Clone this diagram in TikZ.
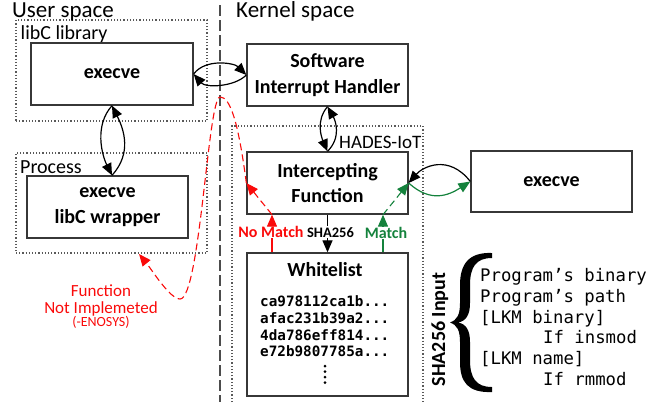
\documentclass[tikz,border=0pt]{standalone}
\usepackage{fontspec}
\setmainfont{Carlito}
\newfontfamily\monofont{DejaVu Sans Mono}
\usetikzlibrary{arrows.meta}
\definecolor{mgreen}{RGB}{20,130,60}
\definecolor{mred}{RGB}{250,10,10}
\definecolor{bord}{RGB}{55,55,55}
\newcommand{\fsz}[2]{\fontsize{#1}{#2}\selectfont}
\begin{document}
\begin{tikzpicture}[x=1pt,y=-1pt,
  box/.style={draw=bord, line width=1.3pt, minimum width=161pt, minimum height=62pt, inner sep=0pt, align=center, font=\fsz{20}{25.5}\bfseries},
  dotbox/.style={draw=black!65, line width=1.2pt, dash pattern=on 1.2pt off 2pt},
  arr/.style={line width=1.2pt, -{Triangle[length=12pt,width=10pt]}},
  lbl/.style={inner sep=0pt, anchor=base west},
  clbl/.style={inner sep=1pt, anchor=base},
  redd/.style={mred, line width=1.1pt, dash pattern=on 7pt off 4pt},
  grnd/.style={mgreen, line width=1.1pt, dash pattern=on 7pt off 4pt}]
\useasboundingbox (0,0) rectangle (668,402);
% containers
\node[dotbox, minimum width=191pt, minimum height=101pt, inner sep=0pt] (lib) at (111.5,70.5) {};
\node[dotbox, minimum width=191pt, minimum height=100pt, inner sep=0pt] (proc) at (111.5,203) {};
\coordinate (hbl) at (232,402);
\coordinate (htl) at (232,126);
\coordinate (htr) at (423,126);
\coordinate (hbr) at (423,402);
\draw[dotbox] (hbl) -- (htl) -- (htr) -- (hbr);
% separator
\coordinate (vt) at (220,5);
\coordinate (vb) at (220,402);
\draw[black!70, line width=1.6pt, dash pattern=on 11pt off 4pt] (vt) -- (vb);
% titles
\node[lbl, font=\fsz{23}{27}] (us) at (12,17.5) {User space};
\node[lbl, font=\fsz{23}{27}] (ks) at (236,17.5) {Kernel space};
\node[lbl, font=\fsz{20}{24}] (libl) at (20.5,39.5) {libC library};
\node[lbl, font=\fsz{20}{24}] (procl) at (20,173) {Process};
\node[lbl, font=\fsz{19}{23}] (hades) at (339,148) {HADES-IoT};
% boxes
\node[box, minimum width=162pt] (ex) at (112,74) {execve};
\node[box] (wr) at (107.5,207) {execve\\libC wrapper};
\node[box] (sih) at (327.5,75) {Software\\Interrupt Handler};
\node[box] (icp) at (327.5,183) {Intercepting\\Function};
\node[box, minimum height=143pt] (wl) at (327.5,324.5) {};
\node[box, minimum height=61pt] (rex) at (551.5,181.5) {execve};
% whitelist content
\node[clbl, inner sep=0pt, font=\fsz{20}{24}\bfseries] (wlt) at (325,276) {Whitelist};
\node[lbl, font=\monofont\fsz{14.3}{16.7}\bfseries] (h1) at (260,306.7) {ca978112ca1b...};
\node[lbl, font=\monofont\fsz{14.3}{16.7}\bfseries] (h2) at (260,323.3) {afac231b39a2...};
\node[lbl, font=\monofont\fsz{14.3}{16.7}\bfseries] (h3) at (260,340) {4da786eff814...};
\node[lbl, font=\monofont\fsz{14.3}{16.7}\bfseries] (h4) at (260,356.7) {e72b9807785a...};
\fill (325,366) circle (1.5pt) (325,371.5) circle (1.5pt) (325,377) circle (1.5pt) (325,382.5) circle (1.5pt);
% SHA256 input
\node[rotate=90, anchor=base, inner sep=0pt, font=\fsz{20}{24}\bfseries] (shain) at (445,329.5) {SHA256 Input};
\fill (492,253) .. controls (468,252) and (460,265) .. (460,285) -- (460,303)
  .. controls (460,315) and (457,320) .. (450,322.5)
  .. controls (457,325) and (460,330) .. (460,342) -- (460,362)
  .. controls (460,382) and (468,393) .. (492,392) -- (492,387)
  .. controls (476,387) and (470,378) .. (470,360) -- (470,342)
  .. controls (470,330) and (466,324) .. (458,322.5)
  .. controls (466,321) and (470,315) .. (470,303) -- (470,285)
  .. controls (470,267) and (476,258) .. (492,258) -- cycle;
\node[lbl, font=\monofont\fsz{17.3}{20}] (p1) at (480,281.7) {Program’s binary};
\node[lbl, font=\monofont\fsz{17.3}{20}] (p2) at (480,302.4) {Program’s path};
\node[lbl, font=\monofont\fsz{17.3}{20}] (p3) at (480,323) {[LKM binary]};
\node[lbl, font=\monofont\fsz{17.3}{20}] (p4) at (543,343.7) {If insmod};
\node[lbl, font=\monofont\fsz{17.3}{20}] (p5) at (480,364.4) {[LKM name]};
\node[lbl, font=\monofont\fsz{17.3}{20}] (p6) at (543,385) {If rmmod};
% red note
\node[clbl, inner sep=0pt, font=\fsz{17}{20}, text=mred] (fn1) at (101,296) {Function};
\node[clbl, inner sep=0pt, font=\fsz{17}{20}, text=mred] (fn2) at (101,313) {Not Implemeted};
\node[clbl, inner sep=0pt, font=\fsz{14}{17}, text=mred] (fn3) at (101,326.5) {(-ENOSYS)};
% match labels
\node[clbl, font=\fsz{16}{19}\bfseries, text=mred] (nm) at (271,237) {No Match};
\node[clbl, font=\fsz{14.5}{17}\bfseries] (sha) at (330.5,237) {SHA256};
\node[clbl, font=\fsz{16}{19}\bfseries, text=mgreen] (mt) at (386,238) {Match};
\coordinate (nmx) at (272,0);
\coordinate (mtx) at (383,0);
\coordinate (fni) at (139,254);
% connectors
\draw[arr] (ex.east) .. controls +(12,-16) and +(-12,-12) .. (sih.west);
\draw[arr] (sih.west) .. controls +(-12,12) and +(12,14) .. (ex.east);
\draw[arr] (ex.south) .. controls +(-18,20) and +(-10,-20) .. (ex.south |- wr.north);
\draw[arr] (ex.south |- wr.north) .. controls +(20,-22) and +(12,24) .. (ex.south);
\draw[arr] (sih.south) .. controls +(-12,14) and +(-6,-14) .. (icp.north);
\draw[arr] (icp.north) .. controls +(14,-14) and +(8,14) .. (sih.south);
\draw[arr] (rex.west) .. controls +(-22,-28) and +(14,-16) .. (icp.east);
\draw[arr, mgreen] (icp.east) .. controls +(22,20) and +(-22,14) .. (rex.west);
\draw[line width=1.2pt] (icp.south) -- (icp.south |- sha.north);
\draw[arr] (icp.south |- sha.south) -- (wl.north);
\draw[mred, line width=1.3pt] (nmx |- wl.north) -- (nmx |- nm.south);
\draw[arr, mred] (nmx |- nm.north) -- (nmx |- icp.south);
\draw[mgreen, line width=1.3pt] (mtx |- wl.north) -- (mtx |- mt.south);
\draw[arr, mgreen] (mtx |- mt.north) -- (mtx |- icp.south);
\draw[arr, redd] (nmx |- icp.south) -- (icp.west);
\draw[arr, grnd] (mtx |- icp.south) -- (icp.east);
\draw[arr, redd] (icp.west) .. controls (238,120) and (230,97) .. (220,97) .. controls (208,97) and (200,299) .. (180,299) .. controls (170,299) and (152,270) .. (fni);
\end{tikzpicture}
\end{document}
